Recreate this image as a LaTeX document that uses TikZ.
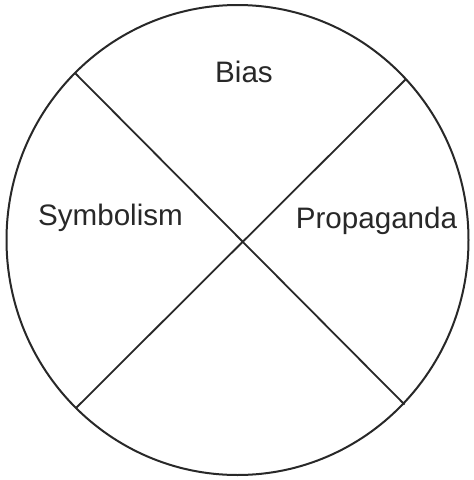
\documentclass[tikz,border=0pt]{standalone}
\usepackage{fontspec}
\setmainfont{Liberation Sans}
\usetikzlibrary{positioning}
\definecolor{inkcol}{RGB}{40,40,40}

\begin{document}
\begin{tikzpicture}[x=1pt,y=-1pt,
    rim/.style={draw=inkcol,line width=2pt},
    cut/.style={draw=inkcol,line width=1.8pt},
    lbl/.style={font=\fontsize{29.6}{34}\selectfont,text=inkcol,anchor=base,inner sep=0pt}]
  \useasboundingbox (0,0) rectangle (474,480);
  % outer circle
  \draw[rim] (237.5,240) ellipse [x radius=231, y radius=235];
  % ends of the two cuts on the rim
  \coordinate (tl) at (75.5,73.5);
  \coordinate (tr) at (406,79);
  \coordinate (bl) at (76,408);
  \coordinate (br) at (404.5,404.5);
  \draw[cut] (tl) -- (br);
  \draw[cut] (tr) -- (bl);
  % the three sectors
  \node[lbl] (bias) at (244,82) {Bias};
  \node[lbl] (symb) at (110.5,225) {Symbolism};
  \node[lbl] (prop) at (376.5,228) {Propaganda};
\end{tikzpicture}
\end{document}
